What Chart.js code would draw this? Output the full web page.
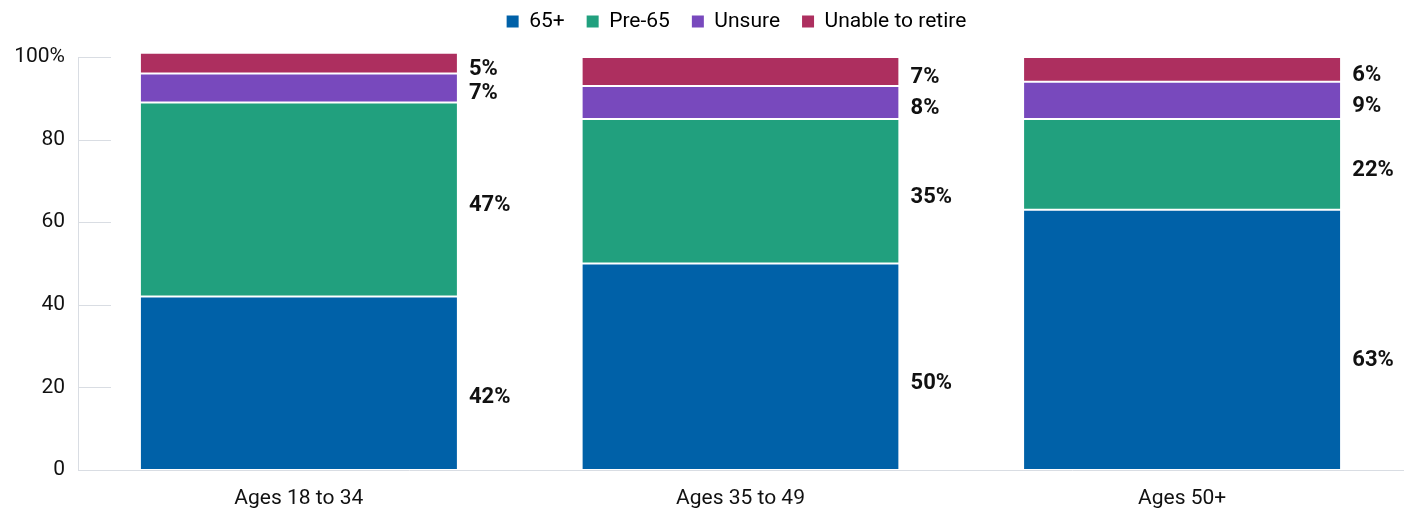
<!DOCTYPE html>
<html>
<head>
<meta charset="utf-8">
<script src="https://cdn.jsdelivr.net/npm/chart.js@4/dist/chart.umd.min.js"></script>
<style>
html,body{margin:0;padding:0;background:#fff}
#wrap{width:1411px;height:512px;position:relative}
</style>
</head>
<body>
<div id="wrap"><canvas id="retireChart"></canvas></div>
<script>
// =============================
// DATA
// =============================
const categories = ["Ages 18 to 34","Ages 35 to 49","Ages 50+"]
const seriesNames = ["65+","Pre-65","Unsure","Unable to retire"]

const over65 = [42,50,63]
const pre65 = [47,35,22]
const unsure = [7,8,9]
const unable = [5,7,6]

const yTicks = [0,20,40,60,80,100]

const colors = ["#0061a8","#21a07e","#7849bd","#ad2f5f"]

const textColor = "#111111"
const axisColor = "#d9dde3"

Chart.defaults.font.family = "Roboto, 'Noto Sans', sans-serif"
Chart.defaults.color = textColor


// =============================
// Label + tick plugin
// =============================
const extrasPlugin = {

id:"extras",

afterLayout(chart){
// center legend over the plot area and lift it toward the top edge
let lg = chart.legend
let shift = (chart.chartArea.left + chart.chartArea.right)/2 - chart.width/2
lg.left += shift
lg.right += shift
lg.top -= 15
lg.bottom -= 15
},

afterDatasetsDraw(chart){

let ctx = chart.ctx
let area = chart.chartArea
let y = chart.scales.y

// short tick marks inside the plot
ctx.save()
ctx.strokeStyle = axisColor
ctx.lineWidth = 1
yTicks.forEach(v=>{
if(v===0) return
let py = Math.round(y.getPixelForValue(v)) + 0.5
ctx.beginPath()
ctx.moveTo(area.left, py)
ctx.lineTo(area.left + 33, py)
ctx.stroke()
})
ctx.restore()

// value labels to the right of each bar
ctx.save()
ctx.font = "bold 22px Roboto, 'Noto Sans', sans-serif"
ctx.fillStyle = textColor
ctx.textAlign = "left"
ctx.textBaseline = "middle"

chart.data.datasets.forEach((ds,i)=>{
let meta = chart.getDatasetMeta(i)
meta.data.forEach((bar,j)=>{
let top = bar.y
let bottom = bar.base
let ly
if(i===0){
ly = bottom - (bottom-top)*0.42
}else{
ly = (top+bottom)/2 + 6
}
ctx.fillText(ds.data[j] + "%", bar.x + bar.width/2 + 12, ly)
})
})

ctx.restore()

}

}


// =============================
// CHART
// =============================
const allSeries = [over65,pre65,unsure,unable]

const ctx = document.getElementById("retireChart").getContext("2d")

new Chart(ctx,{

type:"bar",

data:{
labels:categories,
datasets:allSeries.map((vals,i)=>({
label:seriesNames[i],
data:vals,
backgroundColor:colors[i],
borderColor:"#ffffff",
borderWidth:{top:1,bottom:1,left:0,right:0},
borderSkipped:false,
clip:false,
categoryPercentage:1,
barPercentage:0.716
}))
},

options:{

responsive:true,
maintainAspectRatio:false,
animation:false,

layout:{
padding:{left:0,right:8,top:4,bottom:0}
},

plugins:{
legend:{
position:"top",
labels:{
color:textColor,
font:{size:21},
boxWidth:12,
boxHeight:12,
padding:22,
generateLabels(chart){
return chart.data.datasets.map((ds,i)=>({
text:ds.label,
fillStyle:ds.backgroundColor,
strokeStyle:ds.backgroundColor,
lineWidth:0,
datasetIndex:i
}))
}
}
},
tooltip:{enabled:false}
},

scales:{
x:{
stacked:true,
grid:{display:false},
border:{display:true,color:axisColor,width:1},
ticks:{
color:textColor,
font:{size:21},
padding:8
},
afterFit(scale){ scale.height = 42 }
},

y:{
stacked:true,
min:0,
max:100,
grid:{display:false},
border:{display:true,color:axisColor,width:1},
afterBuildTicks(scale){
scale.ticks = yTicks.map(v=>({value:v}))
},
ticks:{
color:textColor,
font:{size:21},
padding:5,
callback:v => v===100 ? "100%" : v
},
afterFit(scale){ scale.width = 78 }
}
}

},

plugins:[extrasPlugin]

})
</script>
</body>
</html>
